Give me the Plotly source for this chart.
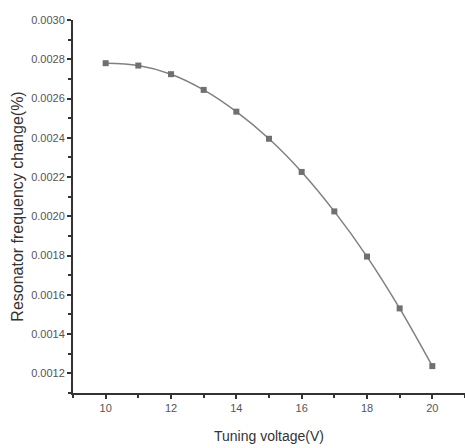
import plotly.graph_objects as go

voltage = [10, 11, 12, 13, 14, 15, 16, 17, 18, 19, 20]
freq_change = [0.00278, 0.002768, 0.002724, 0.002644, 0.002533, 0.002395,
               0.002226, 0.002025, 0.001795, 0.001531, 0.001237]
y_ticks = [0.0012, 0.0014, 0.0016, 0.0018, 0.0020, 0.0022, 0.0024, 0.0026, 0.0028, 0.0030]
x_ticks = [10, 12, 14, 16, 18, 20]

fig = go.Figure()
fig.add_trace(go.Scatter(
    x=voltage, y=freq_change, mode="lines+markers",
    line=dict(color="#808080", width=1.5, shape="spline", smoothing=1.0),
    marker=dict(symbol="square", size=6, color="#707070"),
    showlegend=False,
))

axis_common = dict(
    showline=True, linecolor="#333333", linewidth=2,
    ticks="outside", ticklen=4, tickwidth=1.5, tickcolor="#333333",
    showgrid=False, zeroline=False,
    tickfont=dict(family="Liberation Sans Narrow, Liberation Sans, Arial", size=11, color="#555555"),
)

fig.update_xaxes(
    range=[9, 21], tickvals=x_ticks, ticktext=[str(v) for v in x_ticks],
    minor=dict(ticks="outside", dtick=1, tick0=9, ticklen=3, tickcolor="#333333"),
    title_text="Tuning voltage(V)", title_standoff=18,
    title_font=dict(family="Liberation Sans, Arial", size=14, color="#333333"),
    **axis_common,
)
fig.update_yaxes(
    range=[0.0011, 0.0030], tickvals=y_ticks, ticktext=[f"{v:.4f}" for v in y_ticks],
    minor=dict(ticks="outside", dtick=0.0001, tick0=0.0011, ticklen=3, tickcolor="#333333"),
    title_text="Resonator frequency change(%)", title_standoff=4,
    title_font=dict(family="Liberation Sans, Arial", size=16, color="#333333"),
    **axis_common,
)

fig.update_layout(
    width=465, height=448,
    margin=dict(l=73, r=0, t=20, b=55),
    plot_bgcolor="white", paper_bgcolor="white",
)

fig.write_html("out.html")
